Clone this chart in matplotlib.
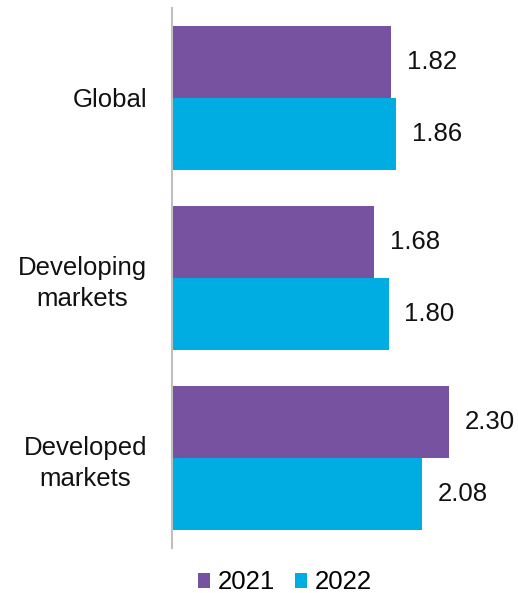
import matplotlib.pyplot as plt
import numpy as np

plt.rcParams['font.family'] = ['Liberation Sans', 'DejaVu Sans']

categories = ['Global', 'Developing\nmarkets', 'Developed\nmarkets']
series_names = ['2021', '2022']
values_2021 = [1.82, 1.68, 2.30]
values_2022 = [1.86, 1.80, 2.08]
colors = ['#7652A1', '#00ADE3']

fig = plt.figure(figsize=(5.18, 5.93), dpi=100)
ax = fig.add_axes([0.332, 0.076, 0.581, 0.911])

y = np.arange(len(categories))
h = 0.4
b1 = ax.barh(y - h / 2, values_2021, height=h, color=colors[0], label=series_names[0])
b2 = ax.barh(y + h / 2, values_2022, height=h, color=colors[1], label=series_names[1])

for bars in (b1, b2):
    for rect in bars:
        w = rect.get_width()
        ax.text(w + 0.13, rect.get_y() + rect.get_height() / 2, f'{w:.2f}',
                va='center', ha='left', fontsize=18.5, color='#111111')

ax.set_xlim(0, 2.5)
ax.set_ylim(2.5, -0.5)
ax.set_yticks(y)
ax.set_yticklabels(categories, fontsize=18.5, color='#111111', linespacing=1.36,
                   ha='right', multialignment='center')
ax.tick_params(axis='y', length=0, pad=18)
ax.set_xticks([])
for s in ['top', 'right', 'bottom']:
    ax.spines[s].set_visible(False)
ax.spines['left'].set_color('#BFBFBF')
ax.spines['left'].set_linewidth(1.5)

fig.legend(handles=[b1, b2], labels=series_names, loc='center',
           bbox_to_anchor=(0.55, 0.018), ncol=2, frameon=False, fontsize=18.5,
           handlelength=0.5, handleheight=0.5, handletextpad=0.3,
           columnspacing=0.75)

fig.savefig('out.png', dpi=100)
